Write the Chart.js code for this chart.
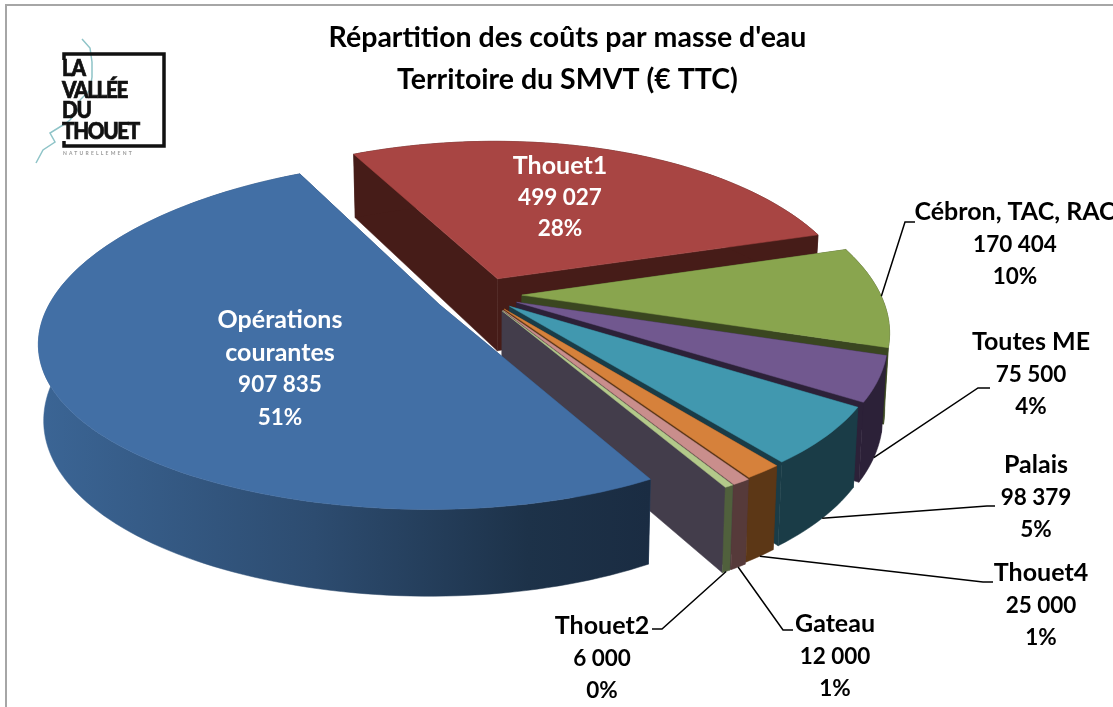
<!DOCTYPE html>
<html>
<head>
<meta charset="utf-8">
<title>Répartition des coûts</title>
<script src="https://cdn.jsdelivr.net/npm/chart.js@4"></script>
<style>
  html, body { margin: 0; padding: 0; background: #fff; overflow: hidden; }
  #wrap { width: 1113px; height: 707px; }
</style>
</head>
<body>
<div id="wrap"><canvas id="pieChart" width="1113" height="707"></canvas></div>
<script>
const categories = ["Opérations courantes", "Thouet1", "Cébron, TAC, RAC", "Toutes ME", "Palais", "Thouet4", "Gateau", "Thouet2"];
const costs = [907835, 499027, 170404, 75500, 98379, 25000, 12000, 6000];
const valueLabels = ["907 835", "499 027", "170 404", "75 500", "98 379", "25 000", "12 000", "6 000"];
const percentLabels = ["51%", "28%", "10%", "4%", "5%", "1%", "1%", "0%"];

// colours
const topColors = ["#426fa5", "#a84543", "#89a54e", "#71588f", "#4198af", "#d6813b", "#c98e8c", "#b3c98a"];
const sideColors = ["#2c4a6e", "#461c18", "#3a4620", "#2c2138", "#1a3c47", "#5c3716", "#563a3a", "#50603c"];
const cutColors = ["#2c4a6e", "#461c18", "#3a4620", "#2c2138", "#1a3c47", "#5c3716", "#563a3a", "#433d4b"];

// slice explosion, in px of the unprojected disc
const explode = [47, 40, 40, 38, 37, 38, 40, 40];

// view of the tilted disc
const view = { cx: 482, cy: 295, rx: 372, ry: 166, perspX: 0.2, perspY: 0.17, skew: 0.03, depth: 73 };

// where the outside labels go
const labelSpots = {
  2: { x: 1015, y: 212, elbow: [905, 222], end: [915, 222], wall: 0 },
  3: { x: 1031, y: 342, elbow: [978, 388], end: [990, 388], wall: 1 },
  4: { x: 1036, y: 465, elbow: [987, 506], end: [995, 506], wall: 1 },
  5: { x: 1041, y: 573, elbow: [983, 582], end: [993, 582], wall: 1 },
  6: { x: 835, y: 624, elbow: [783, 630], end: [793, 630], wall: 1 },
  7: { x: 602, y: 626, elbow: [662, 629], end: [652, 629], wall: 1 }
};
const nameFont = 'bold 25px Lato, "Open Sans", sans-serif';
const numberFont = 'bold 22.5px Lato, "Open Sans", sans-serif';

function project(px, py, wall) {
  let x = view.cx + view.rx * px / (1 - view.perspX * py + view.skew * px);
  let y = view.cy + view.ry * py / (1 - view.perspY * py);
  if (wall) {
    y += wall * view.depth / (1 - 0.15 * py);
    x -= wall * (x - view.cx) * 0.012;
  }
  return [x, y];
}

function fillPoly(ctx, pts, fill) {
  ctx.beginPath();
  pts.forEach((p, i) => i ? ctx.lineTo(p[0], p[1]) : ctx.moveTo(p[0], p[1]));
  ctx.closePath();
  ctx.fillStyle = fill;
  ctx.fill();
  ctx.strokeStyle = fill;
  ctx.lineWidth = 0.5;
  ctx.stroke();
}

function sliceGeometry(arc) {
  const mid = (arc.startAngle + arc.endAngle) / 2;
  const off = arc.options.offset / view.rx;
  const ox = Math.cos(mid) * off, oy = Math.sin(mid) * off;
  const steps = Math.max(4, Math.ceil((arc.endAngle - arc.startAngle) * 40));
  const rim = [];
  for (let i = 0; i <= steps; i++) {
    const a = arc.startAngle + (arc.endAngle - arc.startAngle) * i / steps;
    rim.push([ox + Math.cos(a), oy + Math.sin(a)]);
  }
  return { mid, ox, oy, rim };
}

function drawSlice(ctx, arc, i) {
  const g = sliceGeometry(arc);
  const up = p => project(p[0], p[1], 0);
  const down = p => project(p[0], p[1], 1);
  const apex = [g.ox, g.oy];
  const first = g.rim[0], last = g.rim[g.rim.length - 1];

  // cut walls, then round wall, then the top
  fillPoly(ctx, [up(apex), up(first), down(first), down(apex)], cutColors[i]);
  fillPoly(ctx, [up(apex), up(last), down(last), down(apex)], cutColors[i]);

  let side = sideColors[i];
  if (i === 0) {
    side = ctx.createLinearGradient(40, 0, 650, 0);
    side.addColorStop(0, "#3b6595");
    side.addColorStop(0.45, "#2d4c70");
    side.addColorStop(0.8, "#1d3249");
    side.addColorStop(1, "#1a2c42");
  }
  const wallPts = g.rim.map(up).concat(g.rim.slice().reverse().map(down));
  fillPoly(ctx, wallPts, side);
  fillPoly(ctx, [up(apex)].concat(g.rim.map(up)), topColors[i]);
}

function drawLines(ctx, names, numbers, x, y, color, gap) {
  ctx.fillStyle = color;
  ctx.textAlign = "center";
  ctx.textBaseline = "middle";
  ctx.font = nameFont;
  names.forEach((t, n) => ctx.fillText(t, x, y + n * gap));
  ctx.font = numberFont;
  numbers.forEach((t, n) => ctx.fillText(t, x, y + (names.length + n) * gap));
}

const pie3d = {
  id: "pie3d",
  beforeDraw(chart) {
    const ctx = chart.ctx;
    ctx.save();
    ctx.strokeStyle = "#a6a6a6";
    ctx.lineWidth = 2;
    ctx.strokeRect(6, 5, 1300, 900);
    ctx.restore();
  },
  beforeDatasetsDraw(chart) {
    const ctx = chart.ctx;
    const arcs = chart.getDatasetMeta(0).data;
    ctx.save();
    // back to front: the big slice sits in front of the others
    [1, 2, 3, 4, 5, 6, 7, 0].forEach(i => drawSlice(ctx, arcs[i], i));

    // leaders and outside labels
    ctx.strokeStyle = "#000";
    ctx.lineWidth = 1.5;
    Object.keys(labelSpots).forEach(k => {
      const i = +k, spot = labelSpots[k];
      const g = sliceGeometry(arcs[i]);
      const start = project(g.ox + Math.cos(g.mid), g.oy + Math.sin(g.mid), spot.wall);
      ctx.beginPath();
      ctx.moveTo(start[0], start[1]);
      ctx.lineTo(spot.elbow[0], spot.elbow[1]);
      ctx.lineTo(spot.end[0], spot.end[1]);
      ctx.stroke();
      drawLines(ctx, [categories[i]], [valueLabels[i], percentLabels[i]], spot.x, spot.y, "#000", 32.5);
    });

    // labels inside the two big slices
    drawLines(ctx, ["Opérations", "courantes"], [valueLabels[0], percentLabels[0]], 280, 320, "#fff", 32.5);
    drawLines(ctx, [categories[1]], [valueLabels[1], percentLabels[1]], 560, 166, "#fff", 31.5);
    ctx.restore();
    return false;
  },
  afterDraw(chart) {
    const ctx = chart.ctx;
    ctx.save();
    // logo
    ctx.strokeStyle = "#8fc4c8";
    ctx.lineWidth = 1.5;
    ctx.beginPath();
    [[82, 39], [90, 48], [92, 62], [92, 77], [90, 90], [80, 100], [78, 110], [70, 120], [63, 125], [50, 133], [55, 142], [43, 150], [36, 163]]
      .forEach((p, i) => i ? ctx.lineTo(p[0], p[1]) : ctx.moveTo(p[0], p[1]));
    ctx.stroke();

    ctx.strokeStyle = "#111";
    ctx.lineWidth = 3.5;
    ctx.beginPath();
    ctx.moveTo(64, 60); ctx.lineTo(64, 54); ctx.lineTo(164, 54); ctx.lineTo(164, 146); ctx.lineTo(64, 146); ctx.lineTo(64, 141);
    ctx.stroke();

    ctx.fillStyle = "#111";
    ctx.lineWidth = 0.7;
    ctx.textAlign = "left";
    ctx.textBaseline = "alphabetic";
    ctx.font = '900 23px Lato, sans-serif';
    ctx.letterSpacing = "-1.5px";
    [["LA", 76], ["VALLÉE", 98], ["DU", 118], ["THOUET", 139]].forEach(w => {
      ctx.save();
      ctx.translate(62, w[1]);
      ctx.scale(0.9, 1);
      ctx.fillText(w[0], 0, 0);
      ctx.strokeText(w[0], 0, 0);
      ctx.restore();
    });
    ctx.font = 'bold 5px Lato, sans-serif';
    ctx.letterSpacing = "2.2px";
    ctx.fillStyle = "#999";
    ctx.fillText("NATURELLEMENT", 63, 155);
    ctx.restore();
  }
};

const pieChart = new Chart(document.getElementById("pieChart").getContext("2d"), {
  type: "pie",
  data: {
    labels: categories,
    datasets: [{
      data: costs,
      backgroundColor: topColors,
      offset: explode,
      borderWidth: 0
    }]
  },
  options: {
    responsive: false,
    animation: false,
    events: [],
    rotation: 151,
    layout: { padding: { left: 22, top: 17 } },
    plugins: {
      legend: { display: false },
      tooltip: { enabled: false },
      title: {
        display: true,
        text: ["Répartition des coûts par masse d'eau", "Territoire du SMVT (€ TTC)"],
        color: "#000",
        font: { family: 'Lato, "Open Sans", sans-serif', size: 28.5, weight: "bold", lineHeight: 1.47 },
        padding: { top: 0, bottom: 0 }
      }
    }
  },
  plugins: [pie3d]
});
</script>
</body>
</html>
